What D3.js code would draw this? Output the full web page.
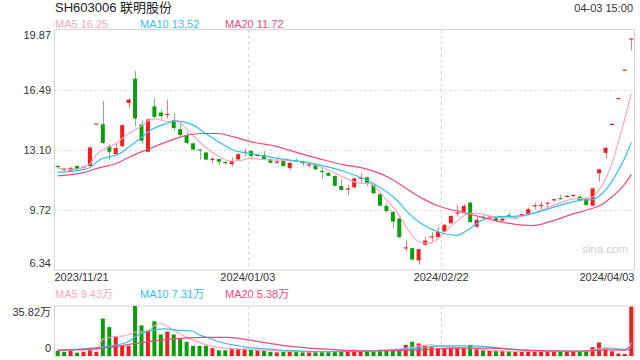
<!DOCTYPE html>
<html><head><meta charset="utf-8">
<script src="https://cdn.jsdelivr.net/npm/d3@7"></script>
<style>body{margin:0;background:#fff}svg{display:block}text{font-family:"Liberation Sans",Arial,"Noto Sans CJK SC",sans-serif}</style>
</head><body><svg id="c" width="640" height="360"></svg>
<script>
const title = "SH603006 联明股份";
const stamp = "04-03 15:00";
const dates = ["2023/11/21","2023/11/22","2023/11/23","2023/11/24","2023/11/27","2023/11/28","2023/11/29","2023/11/30",
"2023/12/01","2023/12/04","2023/12/05","2023/12/06","2023/12/07","2023/12/08","2023/12/11","2023/12/12","2023/12/13","2023/12/14","2023/12/15","2023/12/18","2023/12/19","2023/12/20","2023/12/21","2023/12/22","2023/12/25","2023/12/26","2023/12/27","2023/12/28","2023/12/29",
"2024/01/02","2024/01/03","2024/01/04","2024/01/05","2024/01/08","2024/01/09","2024/01/10","2024/01/11","2024/01/12","2024/01/15","2024/01/16","2024/01/17","2024/01/18","2024/01/19","2024/01/22","2024/01/23","2024/01/24","2024/01/25","2024/01/26","2024/01/29","2024/01/30","2024/01/31",
"2024/02/01","2024/02/02","2024/02/05","2024/02/06","2024/02/07","2024/02/08","2024/02/19","2024/02/20","2024/02/21","2024/02/22","2024/02/23","2024/02/26","2024/02/27","2024/02/28","2024/02/29",
"2024/03/01","2024/03/04","2024/03/05","2024/03/06","2024/03/07","2024/03/08","2024/03/11","2024/03/12","2024/03/13","2024/03/14","2024/03/15","2024/03/18","2024/03/19","2024/03/20","2024/03/21","2024/03/22","2024/03/25","2024/03/26","2024/03/27","2024/03/28","2024/03/29",
"2024/04/01","2024/04/02","2024/04/03"];
const opens = [12.16,12.05,11.92,12.19,12.10,12.19,14.55,14.54,13.31,12.86,13.31,15.74,17.10,14.52,12.99,15.55,15.20,15.07,14.77,14.26,
13.92,13.46,13.09,12.95,12.54,12.58,12.38,12.30,12.56,12.94,13.03,12.76,12.82,12.58,12.39,12.47,12.07,12.46,12.47,12.23,
12.28,11.88,11.81,11.63,11.07,10.87,10.99,11.48,11.55,11.12,10.60,9.94,9.61,9.23,7.56,7.57,6.88,7.76,8.18,8.19,
8.50,8.97,9.52,9.62,10.13,8.78,9.30,9.30,9.25,9.12,9.39,9.26,9.43,9.50,9.93,9.95,10.08,10.27,10.35,10.46,
10.51,10.47,10.34,9.96,11.78,12.93,14.53,15.98,17.58,19.34];
const highs = [12.25,12.08,12.12,12.22,12.22,13.30,14.55,15.85,13.42,13.46,14.55,16.00,17.55,14.77,14.86,16.04,15.37,15.93,15.14,14.58,
14.08,13.50,13.12,12.99,12.71,12.62,12.45,12.67,12.90,13.18,13.06,12.85,13.03,12.62,12.67,12.50,12.40,12.62,12.50,12.30,
12.32,12.06,11.84,11.66,11.44,11.12,11.55,11.78,11.60,11.15,10.74,10.09,9.65,9.30,8.00,7.60,7.55,8.19,8.50,8.78,
8.92,9.42,10.00,10.05,10.20,9.34,9.44,9.38,9.30,9.28,9.59,9.33,9.50,9.85,10.13,10.19,10.12,10.35,10.56,10.55,
10.60,10.55,10.40,10.98,12.05,13.30,14.53,15.98,17.58,19.34];
const lows = [12.08,11.92,11.90,12.00,11.98,12.15,14.55,13.42,12.52,12.80,13.25,15.42,14.43,13.42,12.95,14.81,14.81,14.86,14.17,13.85,
13.42,13.05,12.56,12.50,12.34,12.24,12.28,12.15,12.52,12.72,12.56,12.70,12.55,12.33,12.30,12.15,11.96,12.42,12.19,12.10,
11.95,11.45,11.60,11.05,10.82,10.56,10.95,11.25,11.06,10.62,9.93,9.57,8.69,8.15,7.38,6.90,6.63,7.72,7.94,8.15,
8.45,8.93,9.34,9.58,9.00,8.69,9.16,9.22,9.05,9.08,9.31,9.20,9.38,9.47,9.76,9.72,9.82,10.18,10.32,10.42,
10.45,10.20,9.95,9.94,11.31,12.62,14.53,15.98,17.58,18.70];
const closes = [12.14,11.95,12.09,12.03,12.12,13.23,14.55,13.49,12.99,13.20,14.49,15.93,14.86,13.61,14.81,14.95,15.00,15.09,14.33,13.93,
13.49,13.12,13.07,12.55,12.56,12.43,12.36,12.48,12.86,12.96,12.76,12.78,12.58,12.37,12.41,12.19,12.37,12.44,12.34,12.25,
12.00,11.86,11.64,11.08,10.84,10.89,11.49,11.50,11.25,10.66,9.96,9.66,9.06,8.19,7.58,6.93,7.51,8.00,8.20,8.47,
8.88,9.38,9.54,9.94,9.03,9.16,9.28,9.32,9.10,9.23,9.37,9.28,9.45,9.76,9.95,9.97,10.10,10.29,10.33,10.48,
10.53,10.28,10.00,10.93,12.00,13.21,14.53,15.98,17.58,19.34];
const volumes = [3.7,3.0,3.7,2.4,3.0,5.8,3.0,26.8,20.7,13.9,7.3,7.3,35.82,21.9,18.3,24.9,15.4,17.5,15.4,12.2,
10.2,7.3,7.3,7.3,5.6,4.1,4.1,5.1,5.0,5.2,5.0,4.0,4.0,3.0,2.6,3.0,3.7,2.8,2.6,2.6,
3.0,3.0,2.8,3.5,3.7,3.3,4.5,3.5,3.5,3.7,4.5,4.0,3.7,4.5,8.0,10.2,9.0,7.3,6.6,5.6,
5.6,5.6,5.6,5.6,8.0,5.6,4.1,4.1,3.7,3.7,3.5,3.0,3.0,3.5,3.5,3.3,3.3,3.5,3.0,3.0,
3.0,3.3,3.7,6.3,9.7,5.5,3.4,1.8,1.5,35.3];
// moving-average lines: [candle index, value]
const ma5 = [[0,12.06],[2.7,12.00],[4,12.10],[5,12.31],[6,12.83],[7,13.11],[8,13.27],[9,13.45],[10,13.74],[11,14.0],[12,14.25],[13,14.42],[14,14.74],[15,14.84],[16,14.78],[17,14.68],[18.5,14.73],[19.5,14.45],[21,13.9],[22.6,13.36],[24.7,12.80],[26.7,12.47],[28.3,12.50],[29.8,12.62],[32.2,12.55],[34.2,12.52],[37.9,12.43],[40.4,12.19],[42.6,11.87],[44.6,11.51],[46.9,11.22],[48.5,11.20],[49.5,10.94],[51,10.28],[52.6,9.62],[54.2,8.69],[55.2,8.19],[56.5,7.88],[57.8,7.87],[59.3,8.20],[60.4,8.60],[61.7,9.01],[62.7,9.31],[64,9.53],[65.3,9.53],[67.4,9.34],[69.9,9.27],[72,9.34],[74,9.56],[76,9.84],[78,10.12],[80,10.34],[82,10.38],[83,10.45],[84,10.85],[85,11.45],[86,12.35],[87,13.55],[88,14.85],[89,16.25]];
const ma10 = [[0,11.83],[4.2,12.00],[5,12.11],[6.6,12.56],[8.1,12.71],[9.7,12.90],[11.2,13.31],[12.8,13.74],[14.3,14.18],[16.9,14.58],[18.2,14.71],[19.5,14.67],[21,14.49],[23.1,13.98],[25.2,13.50],[27.3,13.08],[29.8,12.90],[34.2,12.62],[39.4,12.34],[44.6,11.87],[48.9,11.22],[52.6,10.28],[54.7,9.44],[56.7,8.88],[59.3,8.45],[61.9,8.29],[63.5,8.56],[66,9.16],[68.6,9.34],[71.2,9.37],[73.8,9.53],[76.4,9.81],[79,10.09],[81.6,10.28],[83,10.30],[84,10.50],[85,10.83],[86,11.33],[87,11.95],[88,12.65],[89,13.52]];
const ma20 = [[0,11.63],[4.2,11.83],[6.6,12.11],[8.9,12.30],[11.2,12.71],[13.9,13.12],[16.9,13.55],[19.5,13.87],[22.1,14.02],[24.7,14.02],[27.3,13.83],[30.1,13.55],[34.2,13.27],[37.3,12.93],[40.4,12.62],[44.6,12.24],[46.9,12.11],[48.9,11.92],[51.6,11.50],[54.2,10.90],[56.7,10.34],[59.3,9.91],[62.4,9.62],[65.5,9.34],[68.6,9.06],[71.7,8.88],[73.8,8.84],[76.4,9.06],[79.5,9.44],[82.6,9.77],[84,9.94],[85,10.17],[86,10.45],[87,10.78],[88,11.18],[89,11.72]];
const vma5 = [[0,4.2],[6,4.5],[7,12.0],[9,14.0],[10,14.3],[11,15.2],[12,17.0],[13,17.2],[14,18.1],[15,21.6],[16,23.3],[17.6,19.5],[19.5,14.6],[22.7,8.5],[25.9,5.6],[29,4.9],[35,3.5],[40,3.0],[45,3.4],[50,3.9],[54.3,5.6],[57.5,8.0],[60.7,6.6],[63.8,5.6],[67,4.1],[72,3.4],[77,3.3],[82,3.6],[85,6.0],[88,4.5],[89,9.43]];
const vma10 = [[0,4.1],[7,6.6],[10.7,9.7],[12.6,15.4],[14.5,18.3],[16.4,19.5],[18.9,18.3],[21,17.9],[22,15.0],[23,13.6],[25,10.2],[29,6.6],[35.4,4.1],[42,3.2],[48,3.5],[54.3,5.0],[60.7,7.3],[64.5,7.3],[70.2,4.9],[76,3.6],[82,3.4],[86,5.0],[88,4.8],[89,7.31]];
const vma20 = [[0,4.1],[6.9,5.6],[13.2,9.7],[17.6,12.2],[22.7,13.4],[26.5,13.4],[30.3,11.0],[35.4,7.3],[41.7,4.9],[48,3.6],[57.5,4.5],[60.7,5.6],[67,5.6],[73.3,4.1],[80,3.6],[86,4.3],[88,4.2],[89,5.38]];
const priceTicks = [19.87, 16.49, 13.10, 9.72, 6.34];
const volTop = 35.82;
const volTickLabels = ["35.82万", "0"];
const dateTicks = ["2023/11/21","2024/01/03","2024/02/22","2024/04/03"];
const maNames = ["MA5","MA10","MA20"];
const maLast = ["16.25","13.52","11.72"];
const vmaLast = ["9.43万","7.31万","5.38万"];

const RED="#f01e1e", GREEN="#0b9e0b";
const MAC=["#f7a6c2","#33c3df","#ea4a7f"];
const L=54.5, R=634.5, PT=29.5, PB=270, VT=306, VB=356;
const n=dates.length;
const svg=d3.select("#c");
const xe=d3.scaleLinear().domain([0,n]).range([L,R]);
const xc=i=>xe(i+0.5);
const band=d3.scaleBand().domain(d3.range(n)).range([L,R]).paddingInner(0.38).paddingOuter(0.19);
const y=d3.scaleLinear().domain([6.34,19.87]).range([PB,PT]);
const yv=d3.scaleLinear().domain([0,volTop]).range([VB,VT]);

// frames
svg.append("rect").attr("x",L).attr("y",PT).attr("width",R-L).attr("height",PB-PT).attr("fill","none").attr("stroke","#d6d6d6");
svg.append("rect").attr("x",L).attr("y",VT).attr("width",R-L).attr("height",VB-VT).attr("fill","none").attr("stroke","#d6d6d6");
// grid
priceTicks.slice(1,-1).forEach(t=>{
  svg.append("line").attr("x1",L).attr("x2",R).attr("y1",Math.round(y(t))+0.5).attr("y2",Math.round(y(t))+0.5)
   .attr("stroke","#d4d4d4").attr("stroke-dasharray","2,3");
});
dateTicks.slice(1,-1).forEach(d=>{
  const xx=Math.round(xe(dates.indexOf(d)))+0.5;
  [[PT,PB],[VT,VB]].forEach(([a,b])=>svg.append("line").attr("x1",xx).attr("x2",xx).attr("y1",a).attr("y2",b)
   .attr("stroke","#d4d4d4").attr("stroke-dasharray","3,3"));
});
// watermark
svg.append("text").attr("x",582).attr("y",253).attr("font-size",11.5).attr("fill","#cfcfcf").text("sina.com");

// candles
const up=i=> closes[i]>opens[i] || (closes[i]===opens[i] && (i===0 || closes[i]>=closes[i-1]));
const g=svg.append("g");
d3.range(n).forEach(i=>{
  const col=up(i)?RED:GREEN;
  const cx=Math.round(xc(i))+0.5;
  if(highs[i]>lows[i]) g.append("line").attr("x1",cx).attr("x2",cx).attr("y1",y(highs[i])).attr("y2",y(lows[i]))
     .attr("stroke",col).attr("stroke-opacity",0.6).attr("stroke-width",1);
  const top=y(Math.max(opens[i],closes[i])), bot=y(Math.min(opens[i],closes[i]));
  const h=Math.max(1.2,bot-top);
  g.append("rect").attr("x",band(i)).attr("width",band.bandwidth()).attr("y",h>1.2?top:top-0.6).attr("height",h).attr("fill",col);
  // volume
  g.append("rect").attr("x",band(i)).attr("width",band.bandwidth()).attr("y",yv(volumes[i])).attr("height",VB-yv(volumes[i])).attr("fill",col);
});

// MA lines
const line=d3.line().x(d=>xc(d[0])).y(d=>y(d[1])).curve(d3.curveMonotoneX);
const vline=d3.line().x(d=>xc(d[0])).y(d=>yv(d[1])).curve(d3.curveMonotoneX);
[ma5,ma10,ma20].forEach((a,k)=>svg.append("path").attr("d",line(a)).attr("fill","none").attr("stroke",MAC[k]).attr("stroke-width",1.2));
[vma5,vma10,vma20].forEach((a,k)=>svg.append("path").attr("d",vline(a)).attr("fill","none").attr("stroke",MAC[k]).attr("stroke-width",1.2));

// texts
svg.append("text").attr("x",55).attr("y",12).attr("font-size",13).attr("fill","#222").text(title);
svg.append("text").attr("x",633).attr("y",12).attr("font-size",11).attr("fill","#333").attr("text-anchor","end").text(stamp);
const legX=[55,140,225];
maNames.forEach((m,k)=>{
  svg.append("text").attr("x",legX[k]).attr("y",28).attr("font-size",11).attr("fill",MAC[k]).text(m+" "+maLast[k]);
  svg.append("text").attr("x",legX[k]).attr("y",298).attr("font-size",11).attr("fill",MAC[k]).text(m+" "+vmaLast[k]);
});
priceTicks.forEach((t,k)=>{
  let yy=y(t)+4;
  if(k===0) yy=PT+9; if(k===priceTicks.length-1) yy=PB-3;
  svg.append("text").attr("x",51).attr("y",yy).attr("font-size",11).attr("fill","#333").attr("text-anchor","end").text(t.toFixed(2));
});
svg.append("text").attr("x",51).attr("y",VT+10).attr("font-size",11).attr("fill","#333").attr("text-anchor","end").text(volTickLabels[0]);
svg.append("text").attr("x",51).attr("y",VB-4).attr("font-size",11).attr("fill","#333").attr("text-anchor","end").text(volTickLabels[1]);
dateTicks.forEach((d,k)=>{
  const i=dates.indexOf(d);
  let xx=xe(i), anc="middle";
  if(k===0){xx=L;anc="start";}
  if(k===dateTicks.length-1){xx=R;anc="end";}
  svg.append("text").attr("x",xx).attr("y",281).attr("font-size",11).attr("fill","#333").attr("text-anchor",anc).text(d);
});
</script></body></html>
